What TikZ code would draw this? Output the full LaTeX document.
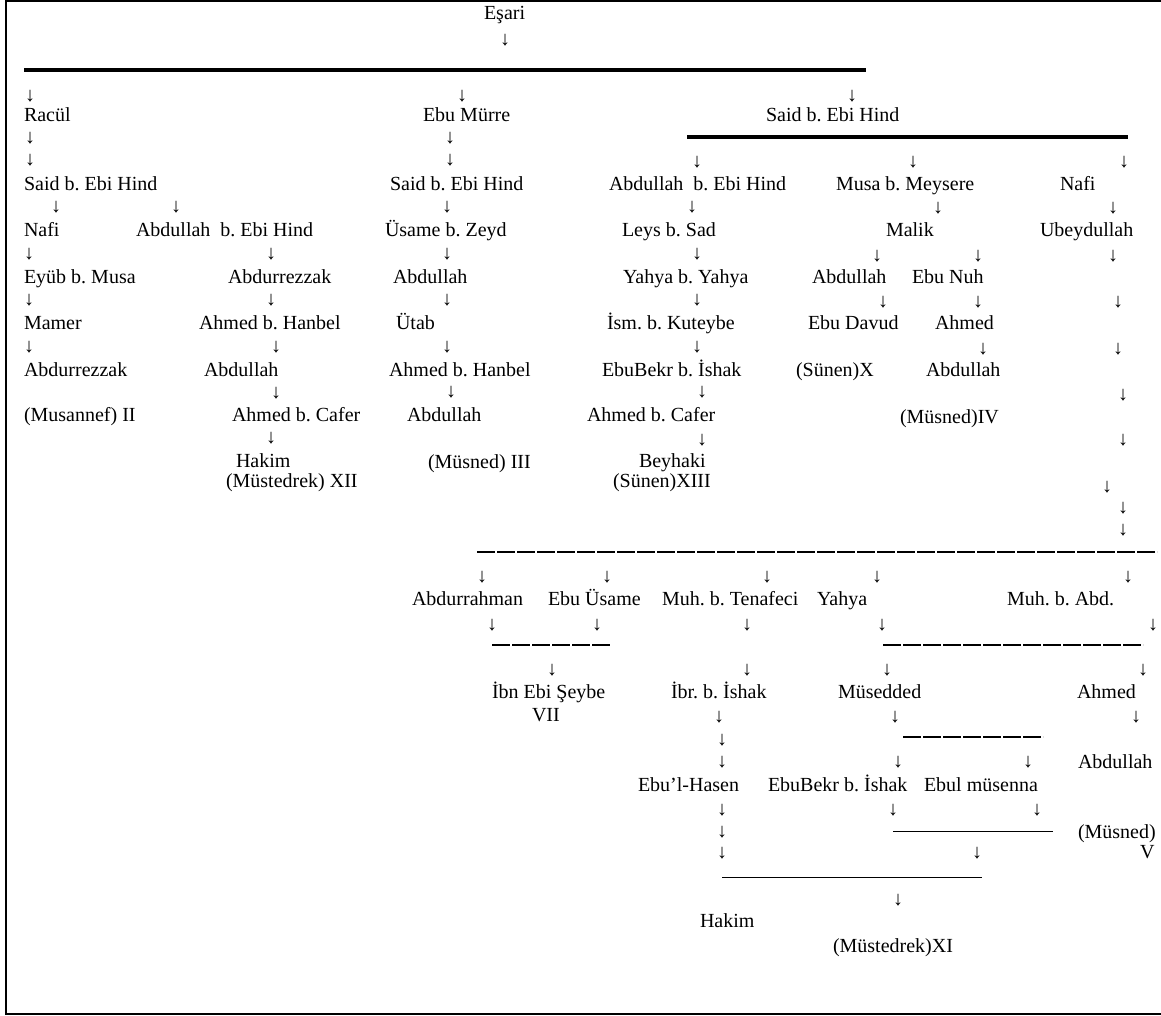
\documentclass[tikz,border=0pt]{standalone}
\usepackage{fontspec}
\setmainfont{Liberation Serif}
\newcommand{\dnarrow}{↓}
\begin{document}
\frenchspacing
\begin{tikzpicture}[x=1pt,y=-1pt,
  every node/.style={inner sep=0pt,outer sep=0pt,font=\fontsize{20}{22}\selectfont},
  nm/.style={anchor=west,text height=13pt,text depth=0pt},
  ar/.style={anchor=center},
  thickrule/.style={line width=4pt},
  dashrule/.style={line width=1.6pt,dash pattern=on 18pt off 2pt},
  thinrule/.style={line width=1pt},
  frameline/.style={line width=1.5pt}]
\useasboundingbox (0,0) rectangle (1161,1016);
% frame
\coordinate (f1) at (1161,1); \coordinate (f2) at (6,1);
\coordinate (f3) at (6,1014); \coordinate (f4) at (1161,1014);
\draw[frameline] (f1) -- (f2) -- (f3) -- (f4);
% top
\node[nm] (esari) at (484,13) {Eşari};
\node[ar] (a0) at (505,40) {\dnarrow};
\coordinate (r1a) at (24,70); \coordinate (r1b) at (866,70);
\draw[thickrule] (r1a) -- (r1b);
\node[ar] (a1) at (30,96) {\dnarrow};
\node[ar] (a2) at (462,96) {\dnarrow};
\node[ar] (a3) at (852,96) {\dnarrow};
\node[nm] (racul) at (24,115) {Racül};
\node[nm] (ebumurre) at (423,115) {Ebu Mürre};
\node[nm] (saidR) at (766,115) {Said b. Ebi Hind};
\coordinate (r2a) at (687,137); \coordinate (r2b) at (1128,137);
\draw[thickrule] (r2a) -- (r2b);
\node[ar] (a4) at (30,138) {\dnarrow};
\node[ar] (a5) at (30,160) {\dnarrow};
\node[ar] (a6) at (450,138) {\dnarrow};
\node[ar] (a7) at (450,160) {\dnarrow};
\node[ar] (a8) at (697,162) {\dnarrow};
\node[ar] (a9) at (913,162) {\dnarrow};
\node[ar] (a10) at (1124,162) {\dnarrow};
\node[nm] (saidL) at (24,184) {Said b. Ebi Hind};
\node[nm] (saidM) at (390,184) {Said b. Ebi Hind};
\node[nm] (abdR) at (609,184) {Abdullah\ \ b. Ebi Hind};
\node[nm] (musa) at (836,184) {Musa b. Meysere};
\node[nm] (nafiR) at (1060,184) {Nafi};
% row 207
\node[ar] (a11) at (56,207) {\dnarrow};
\node[ar] (a12) at (176,207) {\dnarrow};
\node[ar] (a13) at (447,207) {\dnarrow};
\node[ar] (a14) at (692,207) {\dnarrow};
\node[ar] (a15) at (938,208) {\dnarrow};
\node[ar] (a16) at (1113,208) {\dnarrow};
% row 230
\node[nm] (nafiL) at (24,230) {Nafi};
\node[nm] (abdL) at (136,230) {Abdullah\ \ b. Ebi Hind};
\node[nm] (usame) at (385,230) {Üsame b. Zeyd};
\node[nm] (leys) at (622,230) {Leys b. Sad};
\node[nm] (malik) at (886,230) {Malik};
\node[nm] (ubeyd) at (1040,230) {Ubeydullah};
% row 254
\node[ar] (a17) at (29,254) {\dnarrow};
\node[ar] (a18) at (271,254) {\dnarrow};
\node[ar] (a19) at (447,254) {\dnarrow};
\node[ar] (a20) at (697,254) {\dnarrow};
\node[ar] (a21) at (877,256) {\dnarrow};
\node[ar] (a22) at (978,256) {\dnarrow};
\node[ar] (a23) at (1113,256) {\dnarrow};
% row 277
\node[nm] (eyub) at (24,277) {Eyüb b. Musa};
\node[nm] (abdurrezA) at (228,277) {Abdurrezzak};
\node[nm] (abdM1) at (393,277) {Abdullah};
\node[nm] (yahyaY) at (623,277) {Yahya b. Yahya};
\node[nm] (abdD1) at (812,277) {Abdullah};
\node[nm] (ebunuh) at (912,277) {Ebu Nuh};
% row 300
\node[ar] (a24) at (29,300) {\dnarrow};
\node[ar] (a25) at (271,300) {\dnarrow};
\node[ar] (a26) at (447,300) {\dnarrow};
\node[ar] (a27) at (697,300) {\dnarrow};
\node[ar] (a28) at (883,302) {\dnarrow};
\node[ar] (a29) at (978,302) {\dnarrow};
\node[ar] (a30) at (1118,302) {\dnarrow};
% row 323
\node[nm] (mamer) at (24,323) {Mamer};
\node[nm] (ahmedHA) at (199,323) {Ahmed b. Hanbel};
\node[nm] (utab) at (396,323) {Ütab};
\node[nm] (ism) at (607,323) {İsm. b. Kuteybe};
\node[nm] (ebudavud) at (808,323) {Ebu Davud};
\node[nm] (ahmedD) at (935,323) {Ahmed};
% row 347
\node[ar] (a31) at (29,347) {\dnarrow};
\node[ar] (a32) at (276,347) {\dnarrow};
\node[ar] (a33) at (447,347) {\dnarrow};
\node[ar] (a34) at (697,347) {\dnarrow};
\node[ar] (a35) at (983,349) {\dnarrow};
\node[ar] (a36) at (1118,349) {\dnarrow};
% row 370
\node[nm] (abdurrezB) at (24,370) {Abdurrezzak};
\node[nm] (abdA2) at (204,370) {Abdullah};
\node[nm] (ahmedHB) at (389,370) {Ahmed b. Hanbel};
\node[nm] (ebubekrC) at (602,370) {EbuBekr b. İshak};
\node[nm] (sunenX) at (796,370) {(Sünen)X};
\node[nm] (abdD2) at (926,370) {Abdullah};
% row 393
\node[ar] (a37) at (276,393) {\dnarrow};
\node[ar] (a38) at (451,392) {\dnarrow};
\node[ar] (a39) at (702,392) {\dnarrow};
\node[ar] (a40) at (1123,395) {\dnarrow};
% row 415
\node[nm] (musannef) at (24,415) {(Musannef) II};
\node[nm] (ahmedCA) at (232,415) {Ahmed b. Cafer};
\node[nm] (abdM2) at (407,415) {Abdullah};
\node[nm] (ahmedCC) at (587,415) {Ahmed b. Cafer};
\node[nm] (musnedIV) at (900,417) {(Müsned)IV};
% row 438
\node[ar] (a41) at (271,438) {\dnarrow};
\node[ar] (a42) at (702,440) {\dnarrow};
\node[ar] (a43) at (1123,440) {\dnarrow};
% row 461
\node[nm] (hakimA) at (236,461) {Hakim};
\node[nm] (musnedIII) at (428,462) {(Müsned) III};
\node[nm] (beyhaki) at (639,461) {Beyhaki};
\node[nm] (mustXII) at (226,481) {(Müstedrek) XII};
\node[nm] (sunenXIII) at (613,481) {(Sünen)XIII};
\node[ar] (a44) at (1107,487) {\dnarrow};
\node[ar] (a45) at (1123,508) {\dnarrow};
\node[ar] (a46) at (1123,530) {\dnarrow};
% lower section
\coordinate (r3a) at (477,552); \coordinate (r3b) at (1157,552);
\draw[dashrule] (r3a) -- (r3b);
\node[ar] (a47) at (482,577) {\dnarrow};
\node[ar] (a48) at (607,577) {\dnarrow};
\node[ar] (a49) at (767,577) {\dnarrow};
\node[ar] (a50) at (877,577) {\dnarrow};
\node[ar] (a51) at (1128,577) {\dnarrow};
\node[nm] (abdurrahman) at (412,599) {Abdurrahman};
\node[nm] (ebuusame) at (548,599) {Ebu Üsame};
\node[nm] (muhT) at (662,599) {Muh. b. Tenafeci};
\node[nm] (yahya) at (817,599) {Yahya};
\node[nm] (muhA) at (1007,599) {Muh. b. Abd.};
\node[ar] (a52) at (492,625) {\dnarrow};
\node[ar] (a53) at (597,625) {\dnarrow};
\node[ar] (a54) at (747,625) {\dnarrow};
\node[ar] (a55) at (882,625) {\dnarrow};
\node[ar] (a56) at (1153,625) {\dnarrow};
\coordinate (r4a) at (492,645); \coordinate (r4b) at (611,645);
\draw[dashrule] (r4a) -- (r4b);
\coordinate (r5a) at (883,645); \coordinate (r5b) at (1143,645);
\draw[dashrule] (r5a) -- (r5b);
\node[ar] (a57) at (552,670) {\dnarrow};
\node[ar] (a58) at (747,670) {\dnarrow};
\node[ar] (a59) at (887,670) {\dnarrow};
\node[ar] (a60) at (1143,670) {\dnarrow};
\node[nm] (ibnebi) at (492,692) {İbn Ebi Şeybe};
\node[nm] (vii) at (532,715) {VII};
\node[nm] (ibr) at (671,692) {İbr. b. İshak};
\node[nm] (musedded) at (838,692) {Müsedded};
\node[nm] (ahmedE) at (1077,692) {Ahmed};
\node[ar] (a61) at (719,717) {\dnarrow};
\node[ar] (a62) at (895,717) {\dnarrow};
\node[ar] (a63) at (1136,717) {\dnarrow};
\coordinate (r6a) at (903,737); \coordinate (r6b) at (1043,737);
\draw[dashrule] (r6a) -- (r6b);
\node[ar] (a64) at (722,740) {\dnarrow};
\node[ar] (a65) at (722,762) {\dnarrow};
\node[ar] (a66) at (898,762) {\dnarrow};
\node[ar] (a67) at (1028,762) {\dnarrow};
\node[nm] (abdE) at (1078,762) {Abdullah};
\node[nm] (ebulhasen) at (638,785) {Ebu’l-Hasen};
\node[nm] (ebubekrE) at (768,785) {EbuBekr b. İshak};
\node[nm] (ebulmus) at (924,785) {Ebul müsenna};
\node[ar] (a68) at (722,810) {\dnarrow};
\node[ar] (a69) at (893,810) {\dnarrow};
\node[ar] (a70) at (1037,810) {\dnarrow};
\coordinate (r7a) at (893,831); \coordinate (r7b) at (1053,831);
\draw[thinrule] (r7a) -- (r7b);
\node[nm] (musnedV) at (1078,832) {(Müsned)};
\node[nm] (v) at (1140,852) {V};
\node[ar] (a71) at (722,832) {\dnarrow};
\node[ar] (a72) at (722,853) {\dnarrow};
\node[ar] (a73) at (977,853) {\dnarrow};
\coordinate (r8a) at (722,877); \coordinate (r8b) at (982,877);
\draw[thinrule] (r8a) -- (r8b);
\node[ar] (a74) at (898,900) {\dnarrow};
\node[nm] (hakimE) at (700,921) {Hakim};
\node[nm] (mustXI) at (833,946) {(Müstedrek)XI};
\end{tikzpicture}
\end{document}
